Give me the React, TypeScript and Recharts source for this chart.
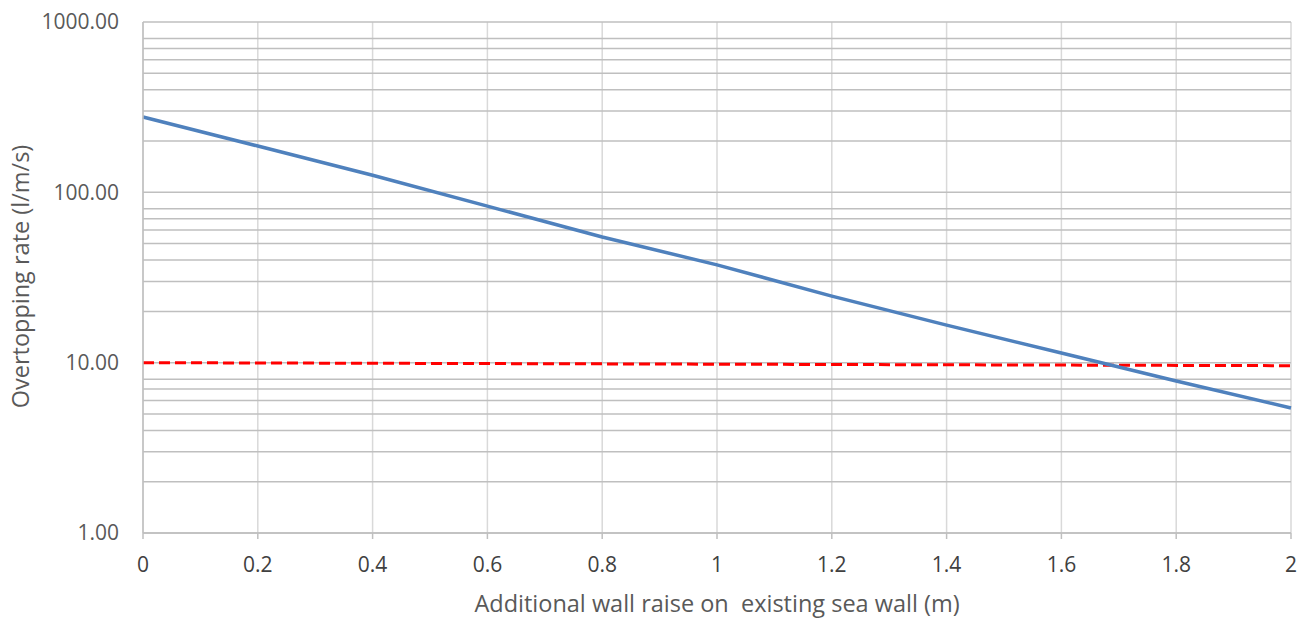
import React from "react";
import {
  LineChart,
  Line,
  XAxis,
  YAxis,
  CartesianGrid,
} from "recharts";

const wallRaise = [0, 0.2, 0.4, 0.6, 0.8, 1, 1.2, 1.4, 1.6, 1.8, 2];
const overtopping = [277, 187, 126, 83, 54.7, 37.5, 24.6, 16.6, 11.4, 7.81, 5.42];
const limit = [10, null, null, null, null, null, null, null, null, null, 9.6];

const xTicks = [0, 0.2, 0.4, 0.6, 0.8, 1, 1.2, 1.4, 1.6, 1.8, 2];
const decades = [1, 10, 100, 1000];
const yTicks = [
  1, 2, 3, 4, 5, 6, 7, 8, 9,
  10, 20, 30, 40, 50, 60, 70, 80, 90,
  100, 200, 300, 400, 500, 600, 700, 800, 900,
  1000,
];

const data = wallRaise.map((x, i) => ({
  x,
  rate: overtopping[i],
  limit: limit[i],
}));

const font = "'Open Sans', sans-serif";

// rotated y title, centred on the axis box
const YTitle = ({ viewBox }: any) => {
  const cx = 20;
  const cy = viewBox.y + viewBox.height / 2 - 1;
  return (
    <text
      x={cx}
      y={cy}
      transform={`rotate(-90, ${cx}, ${cy})`}
      textAnchor="middle"
      dominantBaseline="central"
      fill="#595959"
      fontSize={23.5}
      fontFamily={font}
    >
      Overtopping rate (l/m/s)
    </text>
  );
};

export default function App() {
  return (
    <div style={{ position: "absolute", left: 0, top: 0, background: "#fff" }}>
      <LineChart
        width={1303}
        height={619}
        data={data}
        margin={{ top: 22, right: 12, bottom: 0, left: 0 }}
      >
        <CartesianGrid horizontal={false} stroke="#d9d9d9" strokeWidth={1.5} />
        <CartesianGrid vertical={false} stroke="#bfbfbf" strokeWidth={1.5} />
        <XAxis
          dataKey="x"
          type="number"
          domain={[0, 2]}
          ticks={xTicks}
          height={86}
          stroke="#bfbfbf"
          strokeWidth={1.5}
          tickSize={6}
          tickMargin={18}
          tick={{ fill: "#404040", fontSize: 21, fontFamily: font }}
          label={{
            value: "Additional wall raise on\u00a0 existing sea wall (m)",
            position: "insideBottom",
            offset: 7,
            style: { fill: "#595959", fontSize: 23.5, fontFamily: font },
          }}
        />
        <YAxis
          scale="log"
          domain={[1, 1000]}
          ticks={yTicks}
          allowDataOverflow
          width={143}
          stroke="#bfbfbf"
          strokeWidth={1.5}
          tickLine={false}
          tickSize={0}
          tickMargin={24}
          tickFormatter={(v: number) => (decades.includes(v) ? v.toFixed(2) : "")}
          tick={{ fill: "#595959", fontSize: 21, fontFamily: font }}
          label={<YTitle />}
        />
        <Line
          dataKey="limit"
          stroke="#ff0000"
          strokeWidth={3}
          strokeDasharray="11 5"
          dot={false}
          connectNulls
          isAnimationActive={false}
        />
        <Line
          dataKey="rate"
          stroke="#4f81bd"
          strokeWidth={3.5}
          dot={false}
          isAnimationActive={false}
        />
      </LineChart>
    </div>
  );
}
